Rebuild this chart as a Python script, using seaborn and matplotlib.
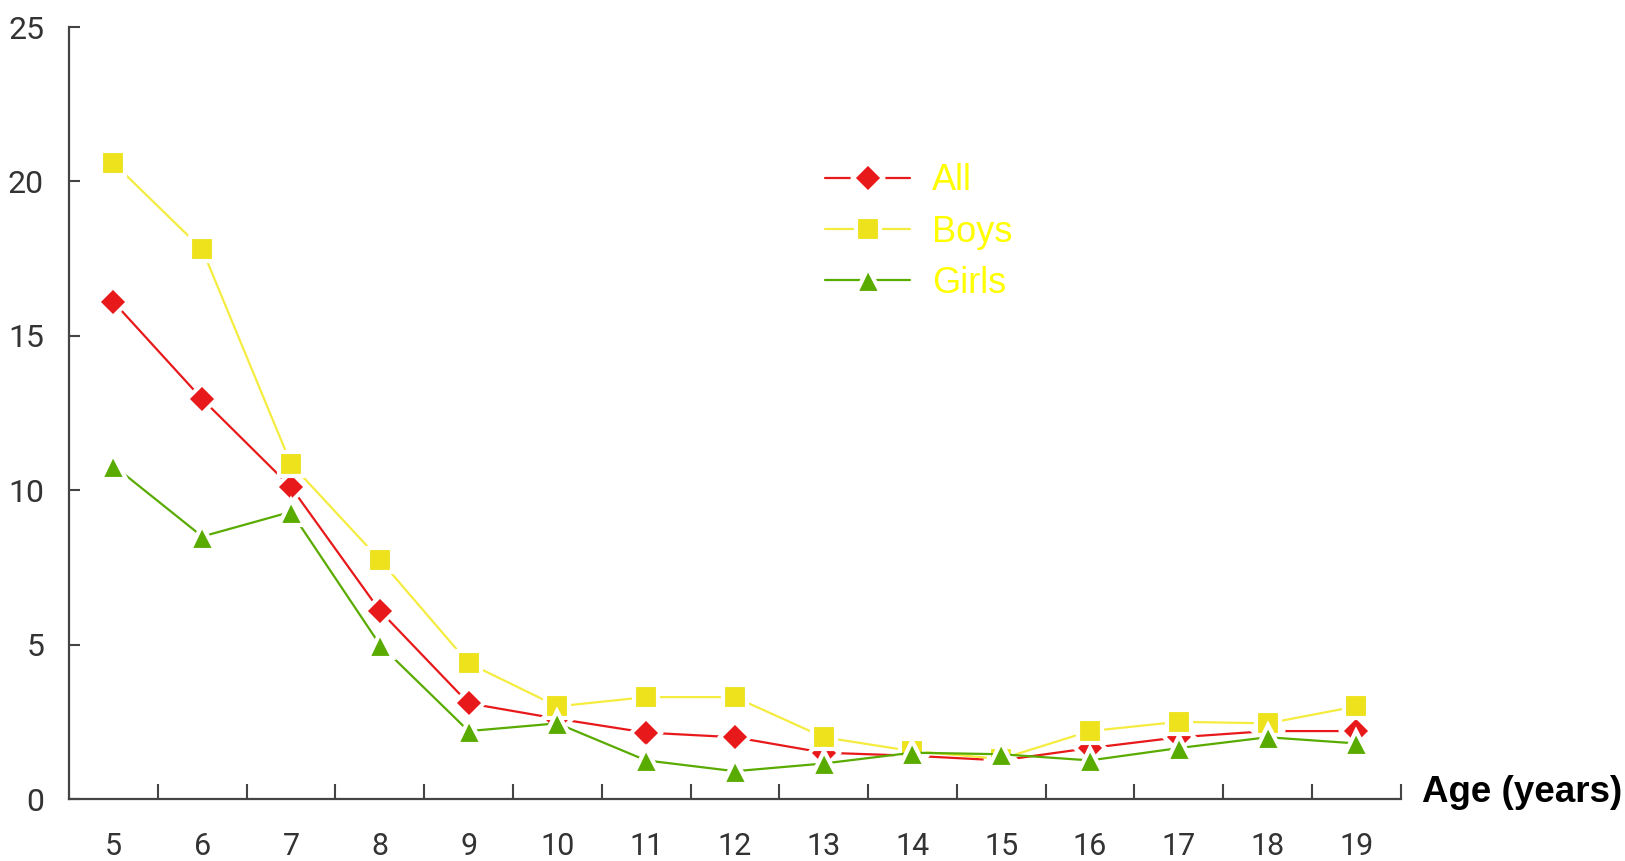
import pandas as pd
import numpy as np
import matplotlib
matplotlib.use("Agg")
import matplotlib.pyplot as plt
import seaborn as sns

ages = ["5", "6", "7", "8", "9", "10", "11", "12", "13", "14", "15", "16", "17", "18", "19"]
all_vals = [16.1, 12.95, 10.1, 6.1, 3.1, 2.6, 2.15, 2.0, 1.5, 1.4, 1.25, 1.65, 2.0, 2.2, 2.2]
boys_vals = [20.6, 17.8, 10.85, 7.75, 4.4, 3.0, 3.3, 3.3, 2.0, 1.55, 1.3, 2.2, 2.5, 2.45, 3.0]
girls_vals = [10.8, 8.5, 9.3, 5.0, 2.2, 2.45, 1.25, 0.9, 1.15, 1.5, 1.45, 1.25, 1.65, 2.0, 1.8]

sns.set_style("white")
plt.rcParams['font.family'] = ['Roboto', 'DejaVu Sans']

fig = plt.figure(figsize=(16.25, 8.61), dpi=100)
ax = fig.add_axes([0.0425, 0.072, 0.8195, 0.8966])

pos = np.arange(len(ages))
series = [
    ("All", all_vals, "#e8191a", "#e8191a", "D", 15),
    ("Boys", boys_vals, "#f5ec40", "#ede21c", "s", 17),
    ("Girls", girls_vals, "#5aab00", "#5aab00", "^", 18),
]
for name, vals, lc, mc, mk, ms in series:
    df = pd.DataFrame({"x": pos, "y": vals})
    sns.lineplot(data=df, x="x", y="y", ax=ax, color=lc, lw=1.6, marker=mk,
                 ms=ms, mfc=mc, mec="white", mew=3, label=name)

ax.set_xlim(-0.5, 14.5)
ax.set_ylim(0, 25)
ax.set_yticks([0, 5, 10, 15, 20, 25])
ax.set_xticks(pos)
ax.set_xticklabels(ages)
ax.set_xticks(np.arange(0.5, 15, 1), minor=True)
ax.tick_params(axis="x", which="both", bottom=True)
ax.tick_params(axis="y", which="major", left=True)
ax.tick_params(axis="x", which="major", length=0, pad=24, labelsize=22, labelcolor="#333333")
ax.tick_params(axis="x", which="minor", direction="in", length=11, width=1.5, color="#444444")
ax.tick_params(axis="y", direction="in", length=8, width=1.5, color="#444444",
               pad=18, labelsize=23, labelcolor="#333333")
for s in ["top", "right"]:
    ax.spines[s].set_visible(False)
for s in ["left", "bottom"]:
    ax.spines[s].set_color("#444444")
    ax.spines[s].set_linewidth(1.6)
ax.set_xlabel("")
ax.set_ylabel("")

ax.text(1.0158, 0.008, "Age (years)", transform=ax.transAxes, fontsize=26.5, fontweight="bold",
        family="Liberation Sans", color="black", va="center", ha="left")

leg = ax.legend(loc="upper left", bbox_to_anchor=(0.557, 0.842), frameon=False,
                prop={"family": "Liberation Sans", "size": 26}, handlelength=2.35,
                handletextpad=0.6, labelspacing=0.45, borderaxespad=0)
for t in leg.get_texts():
    t.set_color("#ffff00")

fig.savefig("out.png", dpi=100)
